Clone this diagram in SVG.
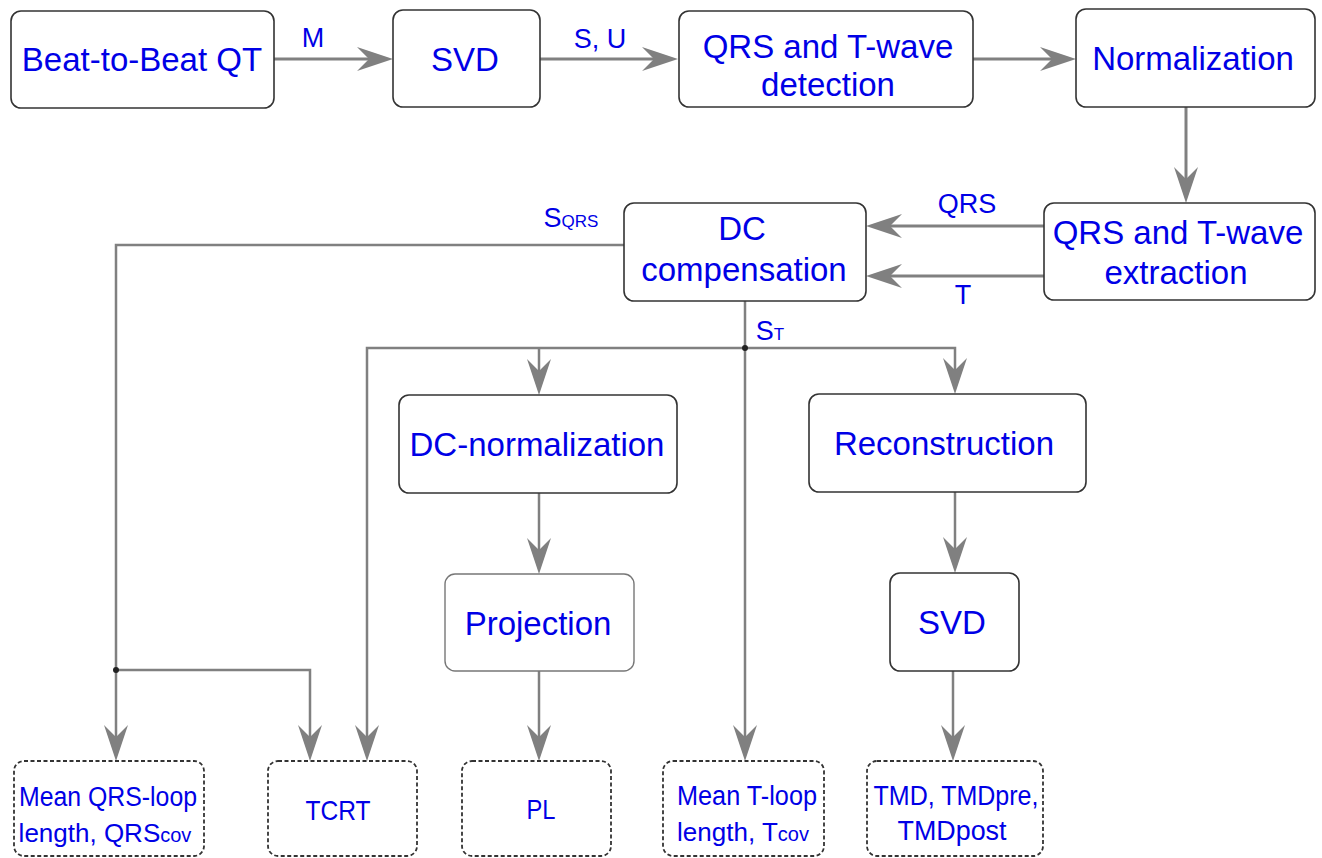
<svg xmlns="http://www.w3.org/2000/svg" width="1322" height="858" viewBox="0 0 1322 858">
<style>
.box{fill:#fff;stroke:#333;stroke-width:1.6}
.box2{fill:#fff;stroke:#777;stroke-width:1.4}
.dbox{fill:#fff;stroke:#333;stroke-width:1.8;stroke-dasharray:4 2.5}
.t{font-family:"Liberation Sans",Arial,sans-serif;fill:#0000e6;text-anchor:middle}
.big{font-size:33px}
.mid{font-size:27px}
.mid2{font-size:26px}
.sm{font-size:28px}
.lbl{font-size:27px}
.c{fill:none;stroke:#808080;stroke-width:3}
.c2{fill:none;stroke:#808080;stroke-width:2.5}
</style>
<defs>
<marker id="ah" markerUnits="userSpaceOnUse" viewBox="0 0 36 24" markerWidth="36" markerHeight="24" refX="22" refY="12" orient="auto">
<path d="M0,0 L36,12 L0,24 L12,12 Z" fill="#808080"/>
</marker>
</defs>

<g id="connectors">
<path class="c" d="M274,59 H379" marker-end="url(#ah)"/>
<path class="c" d="M540,59 H664" marker-end="url(#ah)"/>
<path class="c" d="M973,59 H1062" marker-end="url(#ah)"/>
<path class="c" d="M1186,107 V189" marker-end="url(#ah)"/>
<path class="c" d="M1044,226 H880" marker-end="url(#ah)"/>
<path class="c" d="M1044,276 H880" marker-end="url(#ah)"/>
<path class="c2" d="M624,245 H116 V747" marker-end="url(#ah)"/>
<path class="c2" d="M116,670 H310 V747" marker-end="url(#ah)"/>
<path class="c2" d="M745,301 V747" marker-end="url(#ah)"/>
<path class="c2" d="M745,348 H367 V747" marker-end="url(#ah)"/>
<path class="c2" d="M539,348 V381" marker-end="url(#ah)"/>
<path class="c2" d="M745,348 H955 V380" marker-end="url(#ah)"/>
<path class="c2" d="M539,493 V560" marker-end="url(#ah)"/>
<path class="c2" d="M539,671 V747" marker-end="url(#ah)"/>
<path class="c2" d="M955,492 V559" marker-end="url(#ah)"/>
<path class="c2" d="M953,671 V747" marker-end="url(#ah)"/>
<circle cx="116" cy="670" r="3" fill="#222"/>
<circle cx="745" cy="348" r="3" fill="#222"/>
<text class="t lbl" x="313" y="47">M</text>
<text class="t lbl" x="600" y="48">S, U</text>
<text class="t lbl" x="967" y="213">QRS</text>
<text class="t lbl" x="963" y="304">T</text>
<text class="t lbl" x="571" y="227">S<tspan font-size="17">QRS</tspan></text>
<text class="t lbl" x="770" y="340">S<tspan font-size="17">T</tspan></text>
</g>

<g id="beat">
<rect class="box" x="11" y="11" width="263" height="97" rx="10"/>
<text class="t big" x="142" y="71">Beat-to-Beat QT</text>
</g>
<g id="svd1">
<rect class="box" x="393" y="10" width="147" height="97" rx="10"/>
<text class="t big" x="465" y="71">SVD</text>
</g>
<g id="qrsdet">
<rect class="box" x="679" y="11" width="294" height="96" rx="10"/>
<text class="t big" x="828" y="58">QRS and T-wave</text>
<text class="t big" x="828" y="96">detection</text>
</g>
<g id="norm">
<rect class="box" x="1076" y="9" width="239" height="98" rx="10"/>
<text class="t big" x="1193" y="70">Normalization</text>
</g>
<g id="extract">
<rect class="box" x="1044" y="203" width="271" height="97" rx="10"/>
<text class="t big" x="1178" y="244">QRS and T-wave</text>
<text class="t big" x="1176" y="284">extraction</text>
</g>
<g id="dccomp">
<rect class="box" x="624" y="203" width="242" height="98" rx="10"/>
<text class="t big" x="742" y="240">DC</text>
<text class="t big" x="744" y="281">compensation</text>
</g>
<g id="dcnorm">
<rect class="box" x="399" y="395" width="278" height="98" rx="10"/>
<text class="t big" x="537" y="456">DC-normalization</text>
</g>
<g id="recon">
<rect class="box" x="809" y="394" width="277" height="98" rx="10"/>
<text class="t big" x="944" y="455">Reconstruction</text>
</g>
<g id="proj">
<rect class="box2" x="445" y="574" width="189" height="97" rx="10"/>
<text class="t big" x="538" y="635">Projection</text>
</g>
<g id="svd2">
<rect class="box" x="890" y="573" width="129" height="98" rx="10"/>
<text class="t big" x="952" y="634">SVD</text>
</g>
<g id="meanqrs">
<rect class="dbox" x="14" y="761" width="190" height="95" rx="10"/>
<text class="t mid" x="108" y="806" textLength="178" lengthAdjust="spacingAndGlyphs">Mean QRS-loop</text>
<text class="t mid2" x="105" y="842">length, QRS<tspan font-size="20">cov</tspan></text>
</g>
<g id="tcrt">
<rect class="dbox" x="268" y="761" width="149" height="95" rx="10"/>
<text class="t sm" x="338" y="820" textLength="65" lengthAdjust="spacingAndGlyphs">TCRT</text>
</g>
<g id="pl">
<rect class="dbox" x="462" y="761" width="149" height="95" rx="10"/>
<text class="t sm" x="541" y="819" textLength="29" lengthAdjust="spacingAndGlyphs">PL</text>
</g>
<g id="meant">
<rect class="dbox" x="663" y="761" width="161" height="95" rx="10"/>
<text class="t mid" x="747" y="805" textLength="140" lengthAdjust="spacingAndGlyphs">Mean T-loop</text>
<text class="t mid2" x="743" y="841">length, T<tspan font-size="20">cov</tspan></text>
</g>
<g id="tmd">
<rect class="dbox" x="867" y="761" width="176" height="95" rx="10"/>
<text class="t mid" x="956" y="805" textLength="165" lengthAdjust="spacingAndGlyphs">TMD, TMDpre,</text>
<text class="t mid" x="952" y="840" textLength="109" lengthAdjust="spacingAndGlyphs">TMDpost</text>
</g>
</svg>
